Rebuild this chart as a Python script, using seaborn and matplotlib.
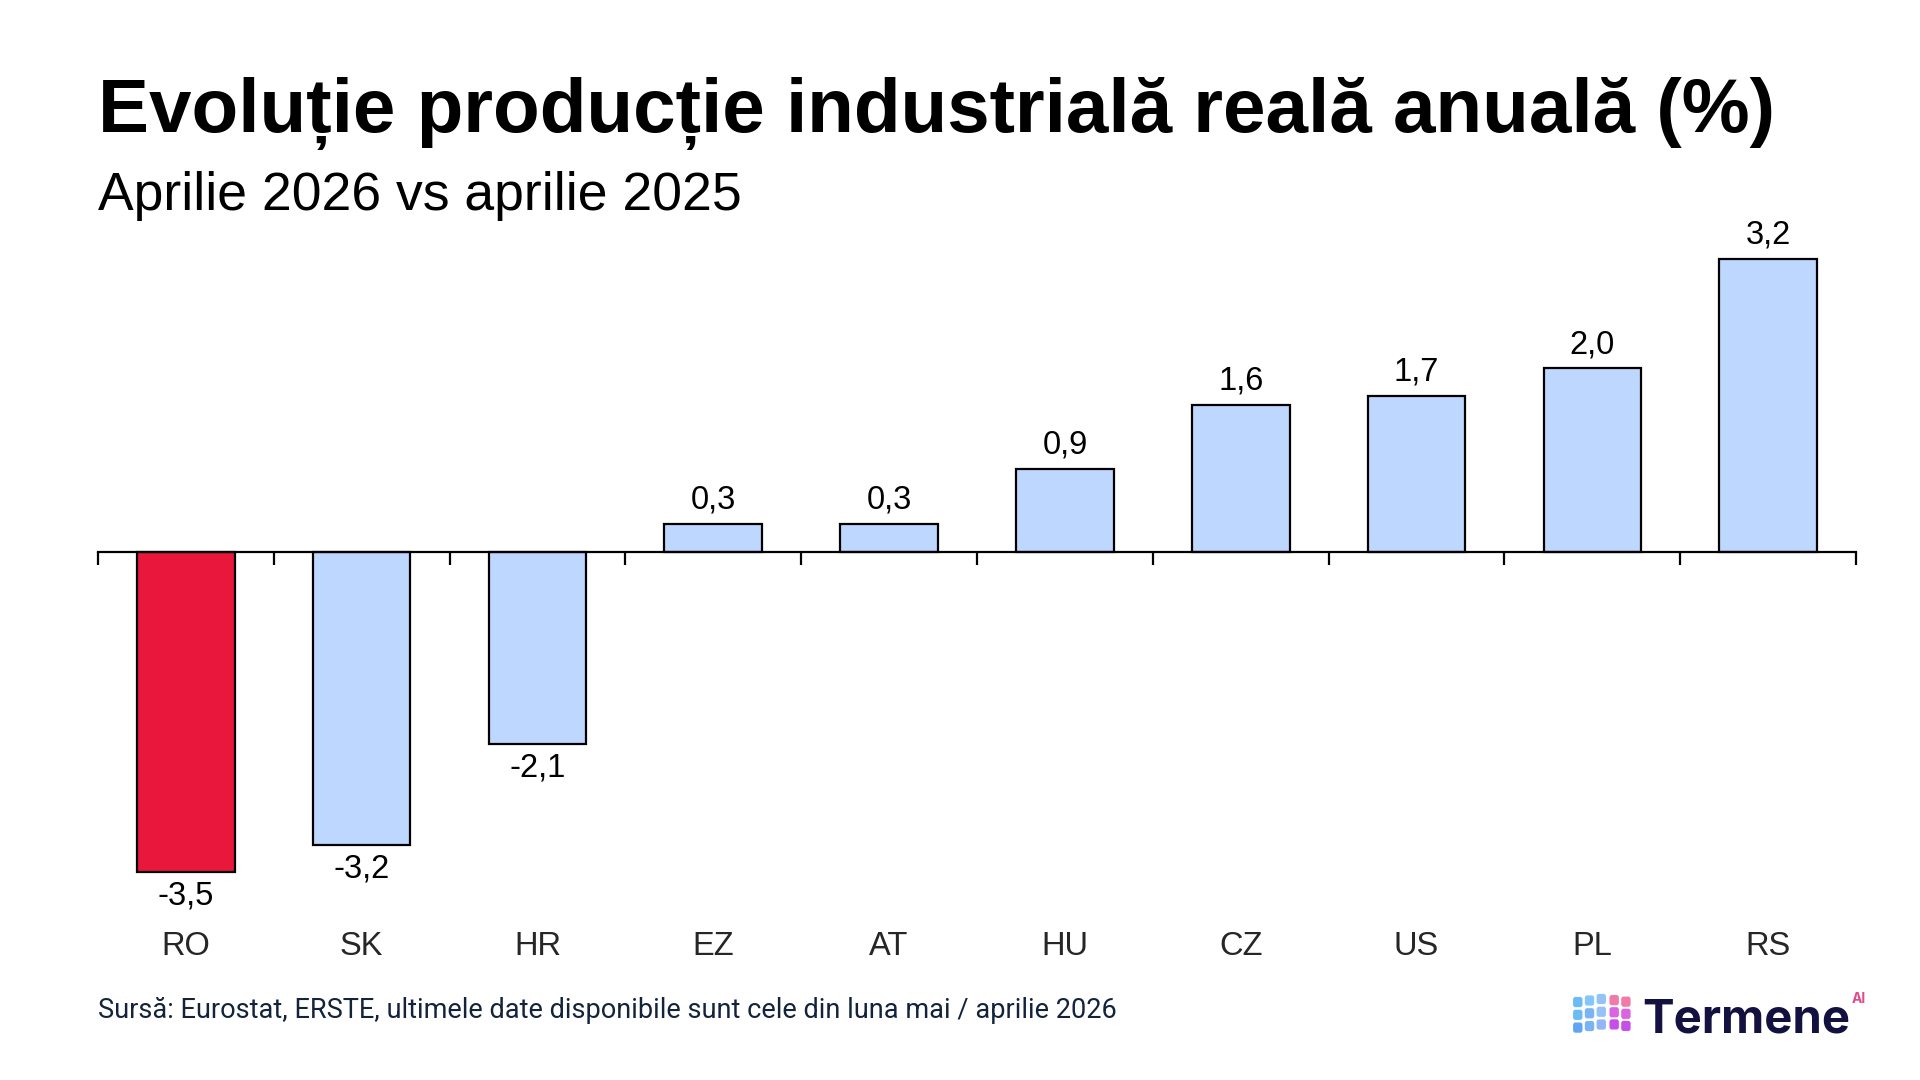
import numpy as np
import pandas as pd
import seaborn as sns
import matplotlib.pyplot as plt
from matplotlib.patches import FancyBboxPatch

# date
tari = ['RO', 'SK', 'HR', 'EZ', 'AT', 'HU', 'CZ', 'US', 'PL', 'RS']
valori = [-3.5, -3.2, -2.1, 0.3, 0.3, 0.9, 1.6, 1.7, 2.0, 3.2]
culori = ['#E8173B'] + ['#BDD7FE'] * 9

titlu = 'Evoluție producție industrială reală anuală (%)'
subtitlu = 'Aprilie 2026 vs aprilie 2025'
sursa = 'Sursă: Eurostat, ERSTE, ultimele date disponibile sunt cele din luna mai / aprilie 2026'

df = pd.DataFrame({'tara': tari, 'valoare': valori})

sns.set_style('white')
plt.rcParams['font.family'] = ['Liberation Sans', 'DejaVu Sans']

fig = plt.figure(figsize=(19.2, 10.8), dpi=100)
ax = fig.add_axes([0.051, 0.167, 0.9157, 0.619])

sns.barplot(data=df, x='tara', y='valoare', hue='tara', palette=culori,
            legend=False, saturation=1, width=0.555,
            edgecolor='black', linewidth=1.6, ax=ax)

for cont in ax.containers:
    etich = [f'{v:.1f}'.replace('.', ',') for v in cont.datavalues]
    ax.bar_label(cont, labels=etich, padding=6, fontsize=23.5, color='black')

ax.set_xlim(-0.5, len(tari) - 0.5)
ax.set_ylim(-3.8, 3.5)
ax.set_xlabel('')
ax.set_ylabel('')
ax.set_yticks([])

for s in ['left', 'right', 'top']:
    ax.spines[s].set_visible(False)
ax.spines['bottom'].set_position(('data', 0))
ax.spines['bottom'].set_linewidth(1.6)
ax.spines['bottom'].set_color('black')

ax.set_xticks(np.arange(len(tari)))
ax.set_xticklabels(tari, fontsize=23.5)
ax.set_xticks(np.arange(len(tari) + 1) - 0.5, minor=True)
ax.tick_params(axis='x', which='both', bottom=True)
ax.tick_params(axis='x', which='major', length=0, pad=273)
ax.tick_params(axis='x', which='minor', length=9, width=1.6, direction='out', color='black')

fig.text(0.051, 0.878, titlu, fontsize=55, fontweight='bold', color='black', va='baseline')
fig.text(0.051, 0.806, subtitlu, fontsize=38.5, color='black', va='baseline', ha='left')
fig.text(0.051, 0.0575, sursa, fontsize=19.5, color='#14233C', va='baseline',
         family=['Roboto', 'DejaVu Sans'])

# logo Termene
lax = fig.add_axes([0.8187, 0.0426, 0.0318, 0.0426])
lax.set_xlim(0, 5.2)
lax.set_ylim(0, 3.6)
lax.axis('off')
albastru = ['#5AB4F5', '#4F9BF3', '#4A84F0']
roz = ['#F07AA8', '#D966E0', '#C64FEA']
for i in range(3):
    for j in range(3):
        c = albastru[(i + j) // 2]
        lax.add_patch(FancyBboxPatch((j * 1.0 + 0.1, (2 - i) * 1.0 + 0.1 + j * 0.12), 0.8, 0.8,
                                     boxstyle='round,pad=0,rounding_size=0.2',
                                     fc=c, ec='none', alpha=0.9 - 0.15 * j))
    for j in range(2):
        c = roz[i]
        lax.add_patch(FancyBboxPatch((3.2 + j * 1.0, (2 - i) * 0.95 + 0.35 - j * 0.12), 0.8, 0.8,
                                     boxstyle='round,pad=0,rounding_size=0.2',
                                     fc=c, ec='none'))
fig.text(0.8555, 0.044, 'Termene', fontsize=34, fontweight='bold', color='#12113F',
         family=['Inter', 'DejaVu Sans'], va='baseline')
fig.text(0.9645, 0.071, 'AI', fontsize=10, fontweight='bold', color='#E24A8A',
         family=['Inter', 'DejaVu Sans'], va='baseline')

fig.savefig('out.png', dpi=100)
